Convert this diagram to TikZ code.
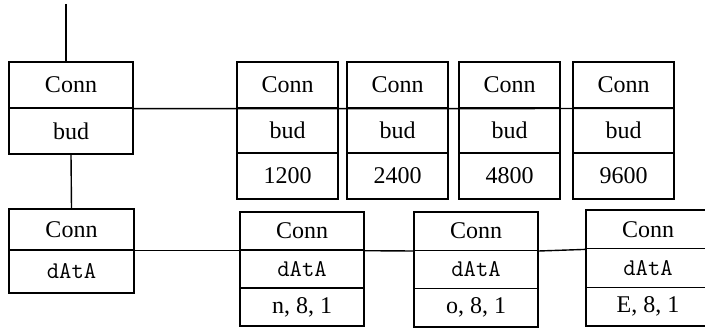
\documentclass[tikz,border=0pt]{standalone}
\usepackage{fontspec}
\setmainfont{Liberation Serif}
\tikzset{
  cell/.style={draw, line width=0.7pt, inner sep=0pt, font=\fontsize{12}{14}\selectfont},
  link/.style={line width=0.7pt}
}
\begin{document}
\begin{tikzpicture}[x=0.5pt,y=-0.5pt]
\useasboundingbox (0,0) rectangle (705,331);
% upper left block
\node[cell,minimum width=62pt,minimum height=23pt] (p1) at (71,85) {Conn};
\node[cell,minimum width=62pt,minimum height=23pt] (p2) at (71,131) {bud};
% baud rate blocks
\foreach \n/\x/\v in{
1/287.5/1200,
2/397.5/2400,
3/509.5/4800,
4/623.5/9600
}
{
        \node[cell,minimum width=50.5pt,minimum height=22.8pt] (b\n1) at (\x,85) {Conn};
        \node[cell,minimum width=50.5pt,minimum height=22.8pt] (b\n2) at (\x,130.5) {bud};
        \node[cell,minimum width=50.5pt,minimum height=22.8pt] (b\n3) at (\x,176) {\v};
    }
% lower left block
\node[cell,minimum width=62.5pt,minimum height=20.5pt] (q1) at (71.5,229.5) {Conn};
\node[cell,minimum width=62.5pt,minimum height=21.5pt] (q2) at (71.5,271.5) {\texttt{dAtA}};
% data format blocks
\foreach \n/\x/\t/\h/\v in{
1/302/212/38/{n, 8, 1},
2/476/212/38.3/{o, 8, 1},
3/648/210/38.7/{E, 8, 1}
}
{
        \node[cell,minimum width=62pt,minimum height={\h*0.5pt}] (d\n1) at (\x,{\t+0.5*\h}) {Conn};
        \node[cell,minimum width=62pt,minimum height={\h*0.5pt}] (d\n2) at (\x,{\t+1.5*\h}) {\texttt{dAtA}};
        \node[cell,minimum width=62pt,minimum height={\h*0.5pt}] (d\n3) at (\x,{\t+2.5*\h}) {\v};
    }
\coordinate (top) at (66,4);
\draw[link] (top) -- (top |- p1.north);
\draw[link] (p2.south) -- (q1.north);
\draw[link] (p1.south east) -- (b41.south east);
\draw[link] (q1.south east) -- (d11.south west);
\draw[link] (d11.south east) -- (d21.south west);
\draw[link] (d21.south east) -- (d31.south west);
\end{tikzpicture}
\end{document}
